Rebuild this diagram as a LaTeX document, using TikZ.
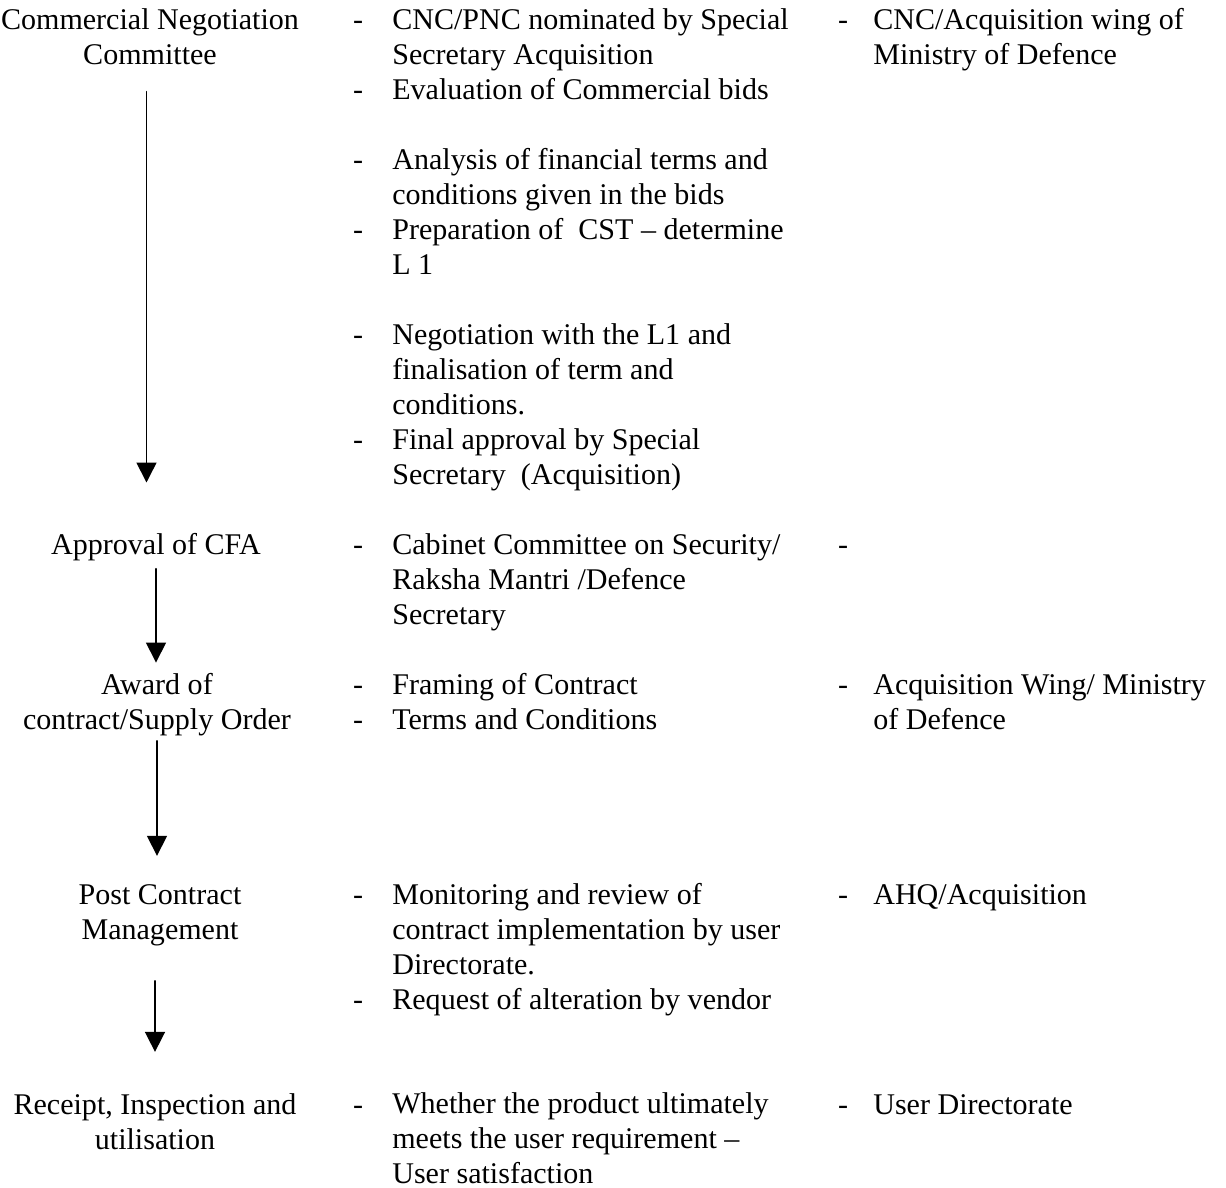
\documentclass[tikz,border=0pt]{standalone}
\usepackage{fontspec}
\setmainfont{Liberation Serif}
\usetikzlibrary{arrows.meta}

\begin{document}
\begin{tikzpicture}[x=0.02cm,y=-0.02cm,line cap=round,line join=round,
  >={Triangle[length=0.4cm,width=0.4cm]},
  every node/.style={inner sep=0pt,font=\fontsize{17.1}{19.9}\selectfont},
  stage/.style={anchor=base,align=center},
  task/.style={anchor=base west,align=left},
  bul/.style={anchor=base},
  flow/.style={->,line width=0.9pt}]
\useasboundingbox (0,0) rectangle (1226,1187);
% left column (nodes sit on the baseline of their last line)
\node[stage] (cnc) at (150,64) {Commercial Negotiation\\Committee};
\node[stage] (cfa) at (156,554) {Approval of CFA};
\node[stage] (award) at (157,729) {Award of\\contract/Supply Order};
\node[stage] (post) at (160,939) {Post Contract\\Management};
\node[stage] (receipt) at (155,1149) {Receipt, Inspection and\\utilisation};
% middle column
\node[bul] (d1) at (358,29) {-};
\node[task] (t1) at (392,64) {CNC/PNC nominated by Special\\Secretary Acquisition};
\node[bul] (d2) at (358,99) {-};
\node[task] (t2) at (392,99) {Evaluation of Commercial bids};
\node[bul] (d3) at (358,169) {-};
\node[task] (t3) at (392,204) {Analysis of financial terms and\\conditions given in the bids};
\node[bul] (d4) at (358,239) {-};
\node[task] (t4) at (392,274) {Preparation of\ \ CST -- determine\\L 1};
\node[bul] (d5) at (358,344) {-};
\node[task] (t5) at (392,414) {Negotiation with the L1 and\\finalisation of term and\\conditions.};
\node[bul] (d6) at (358,449) {-};
\node[task] (t6) at (392,484) {Final approval by Special\\Secretary\ \ (Acquisition)};
\node[bul] (d7) at (358,554) {-};
\node[task] (t7) at (392,624) {Cabinet Committee on Security/\\Raksha Mantri /Defence\\Secretary};
\node[bul] (d8) at (358,694) {-};
\node[task] (t8) at (392,694) {Framing of Contract};
\node[bul] (d9) at (358,729) {-};
\node[task] (t9) at (392,729) {Terms and Conditions};
\node[bul] (d10) at (358,904) {-};
\node[task] (t10) at (392,974) {Monitoring and review of\\contract implementation by user\\Directorate.};
\node[bul] (d11) at (358,1009) {-};
\node[task] (t11) at (392,1009) {Request of alteration by vendor};
\node[bul] (d12) at (358,1114) {-};
\node[task] (t12) at (392,1183) {Whether the product ultimately\\meets the user requirement --\\User satisfaction};
% right column
\node[bul] (e1) at (843,29) {-};
\node[task] (r1) at (873,64) {CNC/Acquisition wing of\\Ministry of Defence};
\node[bul] (e2) at (843,554) {-};
\node[bul] (e3) at (843,694) {-};
\node[task] (r3) at (873,729) {Acquisition Wing/ Ministry\\of Defence};
\node[bul] (e4) at (843,904) {-};
\node[task] (r4) at (873,904) {AHQ/Acquisition};
\node[bul] (e5) at (843,1114) {-};
\node[task] (r5) at (873,1114) {User Directorate};
% arrows
\draw[flow,shorten <=0.54cm,shorten >=1.0cm] ([xshift=-2pt]cnc.south) -- ([xshift=-2pt]cnc.south |- cfa.north);
\draw[flow,shorten <=0.16cm,shorten >=0.2cm] (cfa.south) -- (cfa.south |- award.north);
\draw[flow,shorten <=0.1cm,shorten >=0.56cm] (award.south) -- (award.south |- post.north);
\draw[flow,shorten <=0.7cm,shorten >=0.82cm] (receipt.north |- post.south) -- (receipt.north);
\end{tikzpicture}
\end{document}
